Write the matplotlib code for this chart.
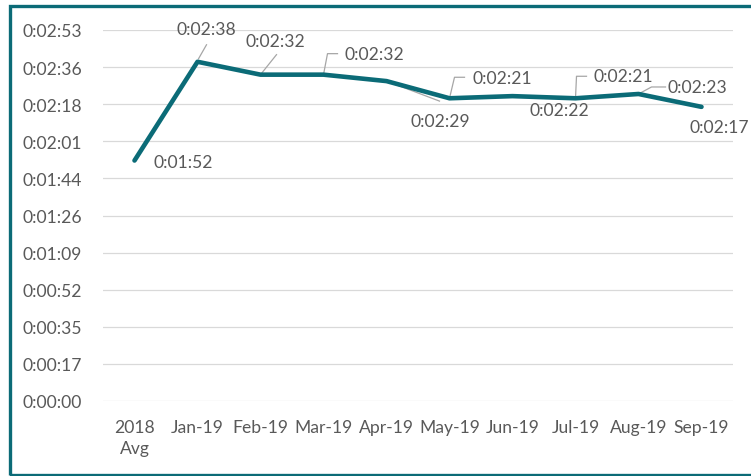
import numpy as np
import matplotlib
matplotlib.use("Agg")
import matplotlib.pyplot as plt
import matplotlib.transforms as mtransforms
from matplotlib.patches import Rectangle

categories = ["2018\nAvg", "Jan-19", "Feb-19", "Mar-19", "Apr-19",
              "May-19", "Jun-19", "Jul-19", "Aug-19", "Sep-19"]
# average durations in seconds
seconds = [112, 158, 152, 152, 149, 141, 142, 141, 143, 137]

# label placement (pixel offsets from the point) and leader lines
label_offsets = [(49, -1), (9, 33), (15, 34), (51, 21), (54, -40),
                 (53, 20), (47, -14), (48, 22), (59, 7), (18, -20)]
leaders = [None,
           [(1, 3), (9, 17)],
           [(0, 0), (16, 20)],
           [(0, 0), (4, 21), (14, 21)],
           [(0, 0), (53, -20)],
           [(0, 0), (5, 21), (15, 21)],
           None,
           [(0, 0), (1, 22), (11, 22)],
           [(0, 0), (13, 7), (27, 7)],
           None]

teal = "#0B6B77"
grey_text = "#595959"
plt.rcParams["font.family"] = ["Lato", "DejaVu Sans"]
fs = 12.6


def hms(s):
    s = int(round(s))
    return "%d:%02d:%02d" % (s // 3600, (s % 3600) // 60, s % 60)


fig = plt.figure(figsize=(7.51, 4.77), dpi=100)
W, H = 751, 477
ax = fig.add_axes([103 / W, 75 / H, 630 / W, 371 / H])

x = np.arange(len(categories))
ax.plot(x, seconds, color=teal, lw=3.3, solid_capstyle="round",
        solid_joinstyle="round", zorder=3)

ax.set_xlim(-0.5, len(categories) - 0.5)
ax.set_ylim(0, 172.8)
yticks = np.arange(11) * 17.28
ax.set_yticks(yticks)
ax.set_yticklabels([hms(v) for v in yticks])
ax.set_xticks(x)
ax.set_xticklabels(categories, linespacing=1.4)
ax.tick_params(length=0, labelsize=fs, labelcolor=grey_text)
ax.tick_params(axis="y", pad=15)
ax.tick_params(axis="x", pad=13)
ax.grid(axis="y", color="#D9D9D9", lw=0.9)
ax.set_axisbelow(True)
for sp in ax.spines.values():
    sp.set_visible(False)

for i, v in enumerate(seconds):
    ax.annotate(hms(v), (x[i], v), xytext=label_offsets[i],
                textcoords="offset pixels", ha="center", va="center",
                fontsize=fs, color=grey_text, zorder=4)
    if leaders[i] is not None:
        px, py = ax.transData.transform((x[i], v))
        tr = mtransforms.Affine2D().translate(px, py)
        lx = [p[0] for p in leaders[i]]
        ly = [p[1] for p in leaders[i]]
        ax.plot(lx, ly, color="#A6A6A6", lw=0.9, transform=tr,
                clip_on=False, zorder=2)

# outer frame (right edge is cut off in the original)
fig.add_artist(Rectangle((9.5 / W, 1.5 / H), 760 / W, 469 / H,
                         transform=fig.transFigure, fill=False,
                         edgecolor=teal, lw=2.4))

fig.savefig("out.png", dpi=100)
